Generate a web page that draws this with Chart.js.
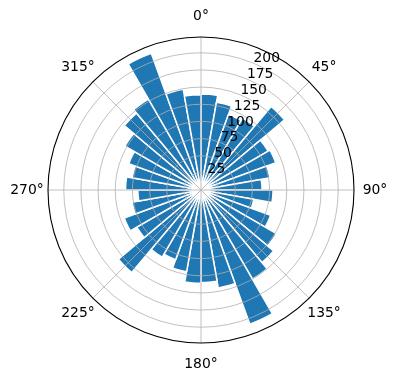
<!DOCTYPE html>
<html>
<head>
<meta charset="utf-8">
<script src="https://cdn.jsdelivr.net/npm/chart.js@4/dist/chart.umd.min.js"></script>
<style>
    html, body { margin: 0; padding: 0; background: #fff; }
    #caixa { width: 396px; height: 380px; }
</style>
</head>
<body>
<div id="caixa"><canvas id="graficoPolar"></canvas></div>
<script>
// ==========================================
// 1. DADOS
// ==========================================

// setores de 10 graus, sentido horário a partir do norte
const setores = [
    "0-10", "10-20", "20-30", "30-40", "40-50", "50-60",
    "60-70", "70-80", "80-90", "90-100", "100-110", "110-120",
    "120-130", "130-140", "140-150", "150-160", "160-170", "170-180",
    "180-190", "190-200", "200-210", "210-220", "220-230", "230-240",
    "240-250", "250-260", "260-270", "270-280", "280-290", "290-300",
    "300-310", "310-320", "320-330", "330-340", "340-350", "350-360",
];
const valores = [
    140, 130, 117, 121, 159, 113, 116, 102, 89, 105, 78, 108,
    127, 138, 150, 208, 145, 135, 136, 121, 108, 113, 157, 108,
    119, 102, 92, 110, 102, 112, 128, 146, 153, 212, 149, 139,
];
const marcasRadiais = [25, 50, 75, 100, 125, 150, 175, 200];
const angulosTheta = [0, 45, 90, 135, 180, 225, 270, 315];
const rotulosTheta = ["0°", "45°", "90°", "135°", "180°", "225°", "270°", "315°"];
const RAIO_MAX = 223;

const AZUL = "#1f77b4";
const CINZA_GRADE = "#b0b0b0";
const FONTE = "13.9px 'DejaVu Sans', sans-serif";

// ==========================================
// 2. GRADE E RÓTULOS (por cima das barras, como no matplotlib)
// ==========================================

const pluginGrade = {
    id: "gradePolar",
    afterDatasetsDraw(chart) {
        const escala = chart.scales.r;
        const ctx = chart.ctx;
        const cx = escala.xCenter;
        const cy = escala.yCenter;
        const raio = escala.getDistanceFromCenterForValue(RAIO_MAX);

        ctx.save();
        ctx.strokeStyle = CINZA_GRADE;
        ctx.lineWidth = 0.8;

        // círculos
        marcasRadiais.forEach((v) => {
            ctx.beginPath();
            ctx.arc(cx, cy, escala.getDistanceFromCenterForValue(v), 0, Math.PI * 2);
            ctx.stroke();
        });

        // raios
        angulosTheta.forEach((a) => {
            const rad = (a * Math.PI) / 180;
            ctx.beginPath();
            ctx.moveTo(cx, cy);
            ctx.lineTo(cx + raio * Math.sin(rad), cy - raio * Math.cos(rad));
            ctx.stroke();
        });

        // contorno externo
        ctx.strokeStyle = "#000";
        ctx.lineWidth = 1.1;
        ctx.beginPath();
        ctx.arc(cx, cy, raio, 0, Math.PI * 2);
        ctx.stroke();

        ctx.fillStyle = "#000";
        ctx.font = FONTE;

        // rótulos de ângulo
        ctx.textAlign = "center";
        ctx.textBaseline = "middle";
        angulosTheta.forEach((a, i) => {
            const rad = (a * Math.PI) / 180;
            const r = raio + 21;
            ctx.fillText(rotulosTheta[i], cx + r * Math.sin(rad), cy - r * Math.cos(rad));
        });

        // rótulos radiais a 22.5 graus
        ctx.textAlign = "left";
        ctx.textBaseline = "alphabetic";
        const radR = (22.5 * Math.PI) / 180;
        marcasRadiais.forEach((v) => {
            const d = escala.getDistanceFromCenterForValue(v);
            ctx.fillText(String(v), cx + d * Math.sin(radR), cy - d * Math.cos(radR) - 1);
        });

        ctx.restore();
    },
};

// ==========================================
// 3. GRÁFICO
// ==========================================

const ctx = document.getElementById("graficoPolar").getContext("2d");
const grafico = new Chart(ctx, {
    type: "polarArea",
    data: {
        labels: setores,
        datasets: [
            {
                data: valores,
                backgroundColor: AZUL,
                borderColor: "#ffffff",
                borderWidth: 1.5,
            },
        ],
    },
    options: {
        responsive: true,
        maintainAspectRatio: false,
        animation: false,
        layout: { padding: { left: 48, right: 42, top: 37, bottom: 37 } },
        plugins: {
            legend: { display: false },
            tooltip: { enabled: false },
        },
        scales: {
            r: {
                min: 0,
                max: RAIO_MAX,
                startAngle: 0,
                ticks: { display: false, stepSize: 25 },
                grid: { display: false },
                angleLines: { display: false },
                pointLabels: { display: false },
            },
        },
    },
    plugins: [pluginGrade],
});
</script>
</body>
</html>
